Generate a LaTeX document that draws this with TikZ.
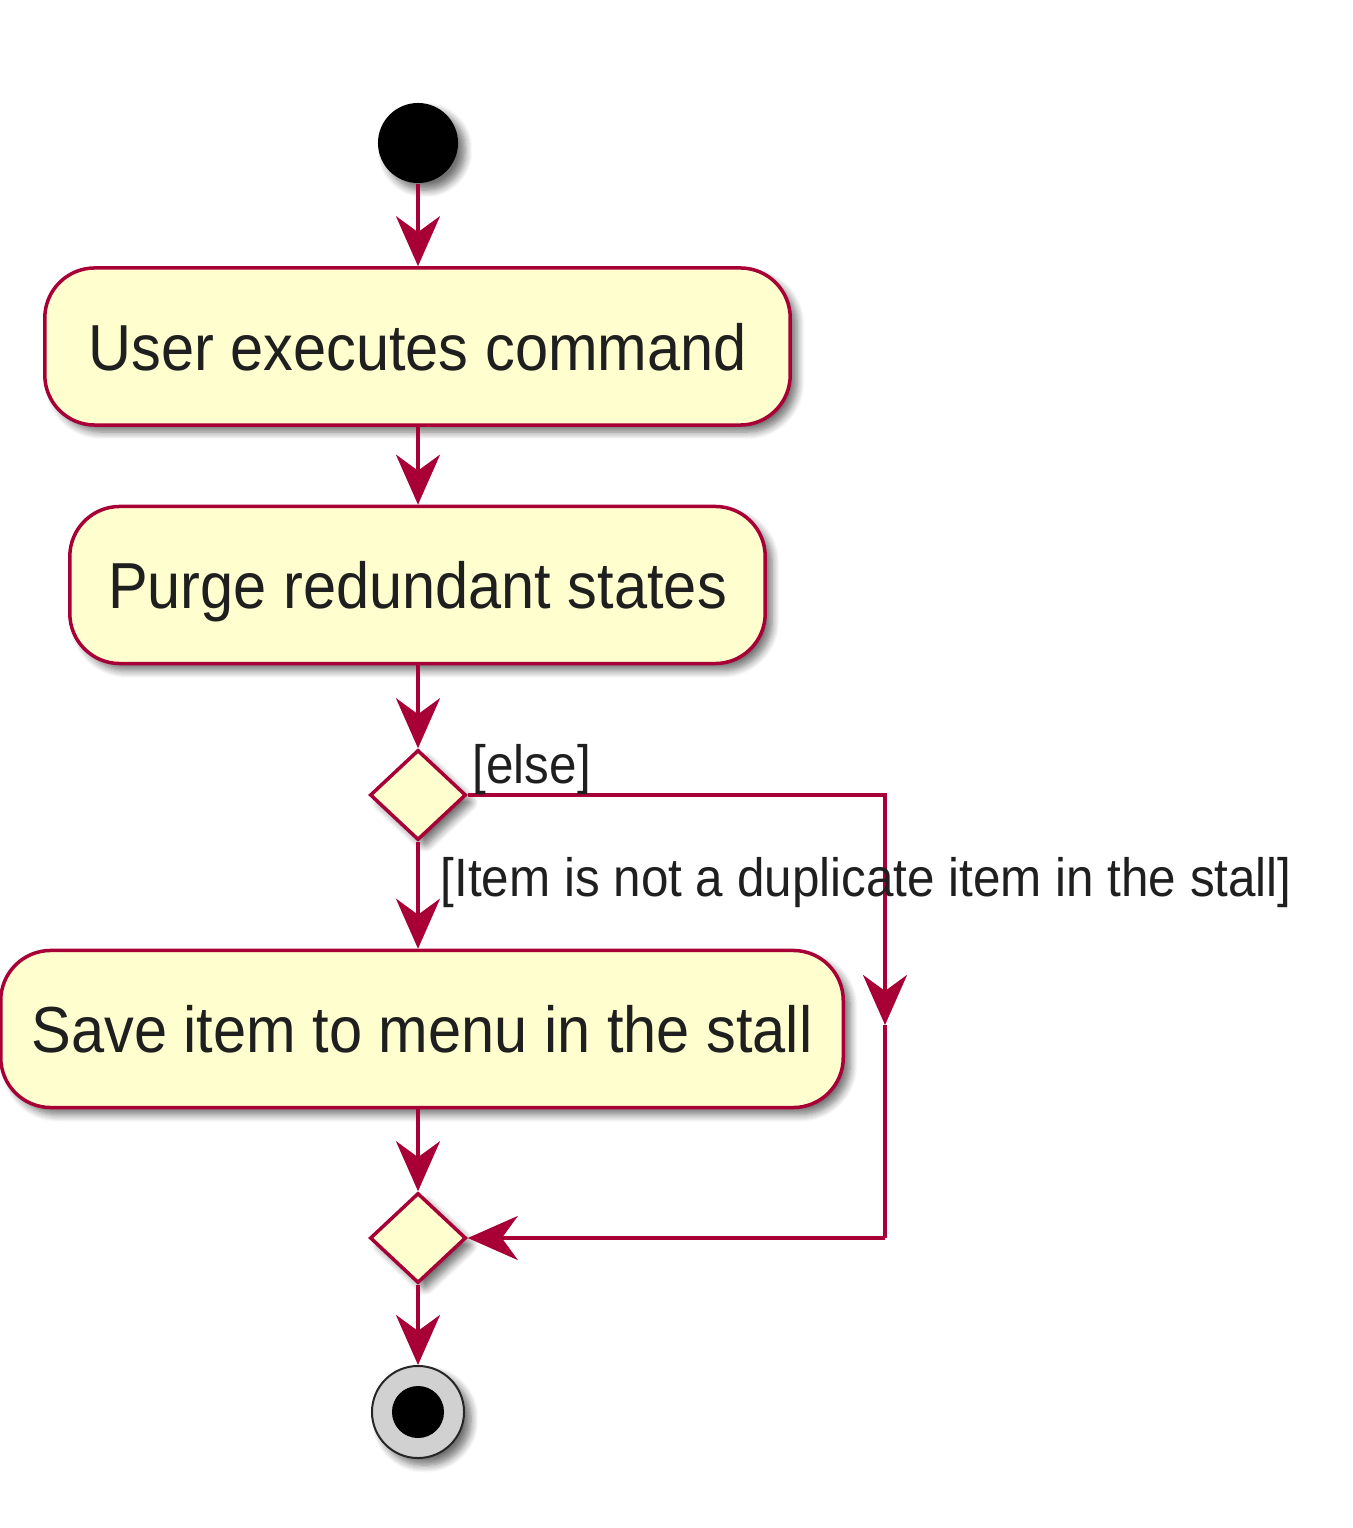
\documentclass[tikz,border=0pt]{standalone}
\usepackage{fontspec}
\setmainfont{Liberation Sans}[FakeStretch=0.915]
\usetikzlibrary{arrows.meta,shapes.geometric,shadows.blur}
\definecolor{umlfill}{HTML}{FEFECE}
\definecolor{umlline}{HTML}{A80036}
\tikzset{
  shad/.style={blur shadow={shadow xshift=0.07cm,shadow yshift=-0.07cm,shadow blur steps=8,shadow blur extra rounding=0.03cm,shadow opacity=55}},
  actbox/.style={draw=umlline,fill=umlfill,line width=0.035cm,rounded corners=0.5cm,
    minimum height=1.57cm,inner sep=0pt,text height=0.47cm,text depth=0pt,
    font=\fontsize{18.5pt}{22pt}\selectfont,text=black!88,shad},
  decis/.style={draw=umlline,fill=umlfill,line width=0.035cm,diamond,aspect=1,inner sep=0pt,
    minimum width=0.96cm,minimum height=0.9cm,shad},
  flow/.style={draw=umlline,line width=0.035cm,-{Stealth[length=0.5cm,width=0.44cm,inset=0.16cm]}},
  flowplain/.style={draw=umlline,line width=0.035cm},
  guard/.style={font=\fontsize{15.35pt}{18pt}\selectfont,text=black!88,inner sep=0pt},
}
\begin{document}
\begin{tikzpicture}[x=0.01cm,y=-0.01cm]
\useasboundingbox (0,0) rectangle (1352,1528);
\node[circle,fill=black,minimum size=0.8cm,inner sep=0pt,shad] (start) at (418,143) {};
\node[actbox,minimum width=7.45cm] (b1) at (417.5,346.5) {User executes command};
\node[actbox,minimum width=6.95cm] (b2) at (417.5,585) {Purge redundant states};
\node[decis] (d1) at (418,795) {};
\node[actbox,minimum width=8.42cm] (b3) at (422,1029) {Save item to menu in the stall};
\node[decis] (m1) at (418,1238) {};
\node[circle,draw=black!85,line width=0.02cm,fill=black!18,minimum size=0.92cm,inner sep=0pt,shad] (stop) at (418,1412) {};
\node[circle,fill=black,minimum size=0.52cm,inner sep=0pt] (stopdot) at (stop.center) {};
\coordinate (c1) at (885,795);
\coordinate (c2) at (885,1025);
\coordinate (c3) at (885,1238);
\draw[flow] (start) -- (start |- b1.north);
\draw[flow] (b1.south -| start) -- (start |- b2.north);
\draw[flow] (b2.south -| start) -- (d1.north);
\draw[flow] (d1.south) -- (d1 |- b3.north);
\draw[flow] (d1 |- b3.south) -- (m1.north);
\draw[flow] (m1.south) -- (stop.north);
\draw[flow] (d1.east) -- (c1) -- (c2);
\draw[flowplain] (c2) -- (c3);
\draw[flow] (c3) -- (m1.east);
\node[guard,anchor=base west] (lelse) at (472,783) {[else]};
\node[guard,anchor=base west] (lnot) at (440,896) {[Item is not a duplicate item in the stall]};
\end{tikzpicture}
\end{document}
